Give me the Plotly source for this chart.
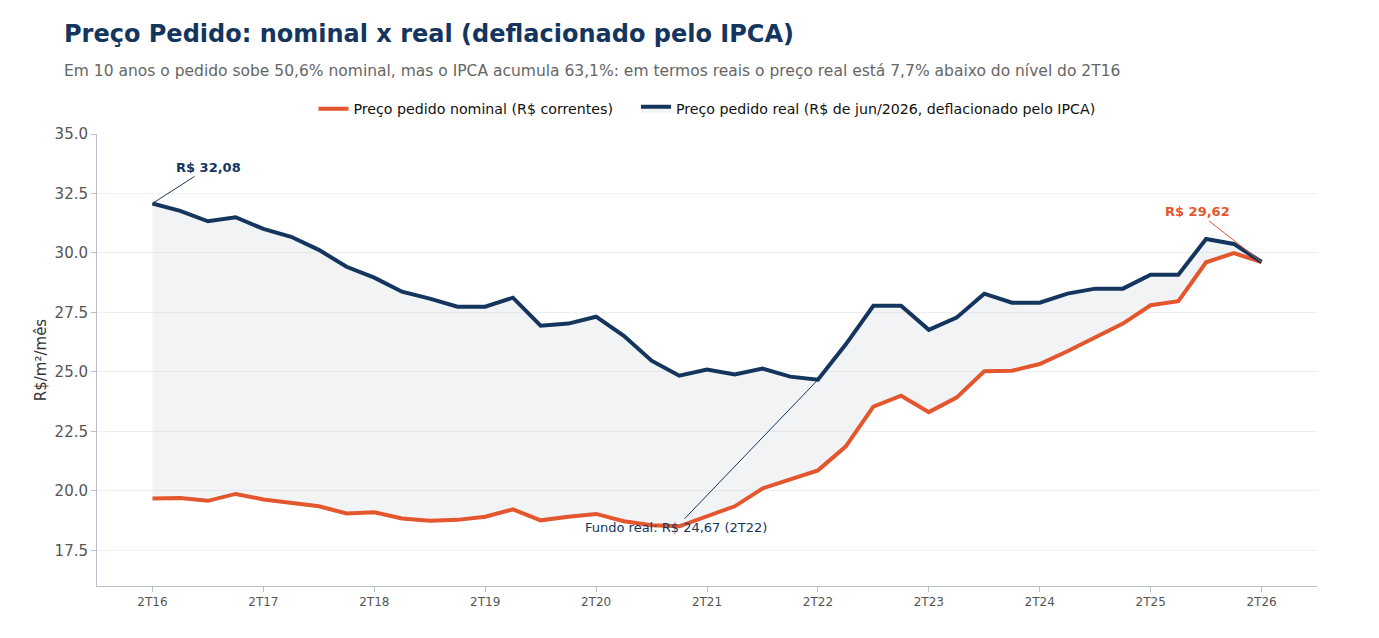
from plotly import graph_objects as go

# trimestres 2T16 .. 2T26
quarters = []
for year in range(16, 27):
    for q in (1, 2, 3, 4):
        if (year == 16 and q < 2) or (year == 26 and q > 2):
            continue
        quarters.append(f"{q}T{year}")

nominal = [19.68, 19.70, 19.58, 19.87, 19.64, 19.51, 19.35, 19.05, 19.10, 18.84,
           18.74, 18.78, 18.91, 19.22, 18.76, 18.91, 19.03, 18.72, 18.55, 18.51,
           18.93, 19.35, 20.10, 20.50, 20.86, 21.86, 23.54, 24.00, 23.31, 23.92,
           25.03, 25.05, 25.33, 25.87, 26.46, 27.03, 27.80, 27.97, 29.61, 29.99,
           29.62]

real = [32.08, 31.77, 31.33, 31.50, 31.01, 30.68, 30.13, 29.42, 28.96, 28.37,
        28.08, 27.74, 27.74, 28.12, 26.94, 27.03, 27.32, 26.52, 25.47, 24.84,
        25.10, 24.89, 25.14, 24.80, 24.67, 26.15, 27.78, 27.78, 26.77, 27.28,
        28.29, 27.91, 27.91, 28.29, 28.50, 28.50, 29.08, 29.08, 30.59, 30.38,
        29.62]

tick_labels = [q for q in quarters if q.startswith("2T")]

NAVY = "#14365e"
ORANGE = "#e4572e"
FONT = "DejaVu Sans"
PAD = "\u00a0" * 4  # espaco extra entre itens da legenda

fig = go.Figure()
fig.add_trace(go.Scatter(
    x=quarters, y=nominal, mode="lines",
    name="Preço pedido nominal (R$ correntes)" + PAD,
    line=dict(color=ORANGE, width=4),
))
fig.add_trace(go.Scatter(
    x=quarters, y=real, mode="lines",
    name="Preço pedido real (R$ de jun/2026, deflacionado pelo IPCA)",
    line=dict(color=NAVY, width=4),
    fill="tonexty", fillcolor="rgba(200,207,215,0.25)",
))

i_min = real.index(min(real))
fig.add_annotation(x=quarters[0], y=real[0], text="<b>R$ 32,08</b>",
                   showarrow=True, arrowhead=0, arrowwidth=1, arrowcolor=NAVY,
                   ax=56, ay=-36, font=dict(color=NAVY, size=13, family=FONT))
fig.add_annotation(x=quarters[-1], y=nominal[-1], text="<b>R$ 29,62</b>",
                   showarrow=True, arrowhead=0, arrowwidth=1, arrowcolor=ORANGE,
                   ax=-64, ay=-50, font=dict(color=ORANGE, size=13, family=FONT))
fig.add_annotation(x=quarters[i_min], y=real[i_min],
                   text="Fundo real: R$ 24,67 (2T22)",
                   showarrow=True, arrowhead=0, arrowwidth=1, arrowcolor=NAVY,
                   ax=-142, ay=148, font=dict(color=NAVY, size=13, family=FONT))

# titulo e subtitulo
fig.add_annotation(xref="paper", yref="paper", x=-0.0287, y=1.221,
                   xanchor="left", yanchor="middle", showarrow=False,
                   text="<b>Preço Pedido: nominal x real (deflacionado pelo IPCA)</b>",
                   font=dict(size=24, color=NAVY, family=FONT))
fig.add_annotation(xref="paper", yref="paper", x=-0.0287, y=1.139,
                   xanchor="left", yanchor="middle", showarrow=False,
                   text="Em 10 anos o pedido sobe 50,6% nominal, mas o IPCA acumula 63,1%: "
                        "em termos reais o preço real está 7,7% abaixo do nível do 2T16",
                   font=dict(size=15.5, color="#666", family=FONT))

fig.update_layout(
    width=1379, height=638,
    margin=dict(l=89, r=70, t=126, b=60),
    paper_bgcolor="white", plot_bgcolor="white",
    font=dict(family=FONT, color="#555"),
    legend=dict(orientation="h", x=0.5, xanchor="center", y=1.055, yanchor="middle",
                traceorder="normal", font=dict(size=14.2, color="#111")),
    showlegend=True,
)
fig.update_xaxes(
    type="category", range=[-2, 42],
    tickvals=tick_labels, ticktext=tick_labels,
    showgrid=False, showline=True, linecolor="#b8c0cc",
    ticks="outside", ticklen=5, tickcolor="#b8c0cc",
    tickfont=dict(size=12, color="#555"),
)
fig.update_yaxes(
    range=[16, 35], dtick=2.5, tickformat=".1f",
    showgrid=True, gridcolor="#eceef1", zeroline=False,
    showline=True, linecolor="#b8c0cc",
    ticks="outside", ticklen=5, tickcolor="#b8c0cc",
    tickfont=dict(size=15, color="#555"),
    title=dict(text="R$/m²/mês", font=dict(size=15, color="#333"), standoff=4),
)

fig.write_html("out.html")
